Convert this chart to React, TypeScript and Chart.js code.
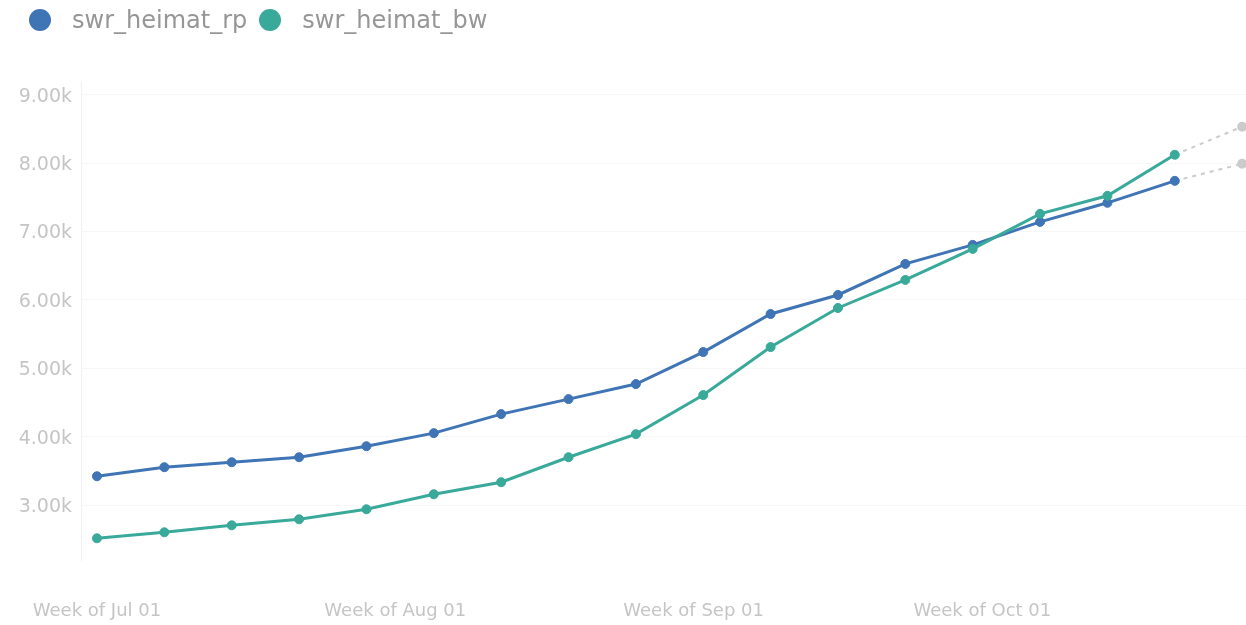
import React, { useEffect, useRef } from 'react';
import { Chart, registerables } from 'chart.js';

Chart.register(...registerables);

// Weekly start dates and the weekly totals for each feed
const weekStarts = [
  '2019-07-01', '2019-07-08', '2019-07-15', '2019-07-22', '2019-07-29',
  '2019-08-05', '2019-08-12', '2019-08-19', '2019-08-26', '2019-09-02',
  '2019-09-09', '2019-09-16', '2019-09-23', '2019-09-30', '2019-10-07',
  '2019-10-14', '2019-10-21',
];
const forecastWeek = '2019-10-28';

const heimatRp = [3424, 3556, 3629, 3702, 3863, 4054, 4332, 4551, 4771, 5239, 5795, 6073, 6527, 6805, 7141, 7420, 7741];
const heimatBw = [2517, 2605, 2707, 2795, 2941, 3161, 3337, 3702, 4039, 4610, 5312, 5883, 6293, 6746, 7259, 7522, 8122];
const forecastRp = 7990;
const forecastBw = 8532;

const seriesNames = ['swr_heimat_rp', 'swr_heimat_bw'];
const seriesColors = ['#3f74b5', '#39a99a'];
const forecastColor = '#cbcbcb';

const tickDates = ['2019-07-01', '2019-08-01', '2019-09-01', '2019-10-01'];
const tickLabels = ['Week of Jul 01', 'Week of Aug 01', 'Week of Sep 01', 'Week of Oct 01'];
const yTicks = [3000, 4000, 5000, 6000, 7000, 8000, 9000];

const DAY = 86400000;
const origin = Date.parse(weekStarts[0] + 'T00:00:00Z');
const dayOf = (iso: string) => (Date.parse(iso + 'T00:00:00Z') - origin) / DAY;

const tickColor = '#c5c5c5';

export default function App() {
  const canvasRef = useRef<HTMLCanvasElement | null>(null);

  useEffect(() => {
    document.body.style.margin = '0';
    const canvas = canvasRef.current;
    if (!canvas) return;

    const lastWeek = weekStarts[weekStarts.length - 1];
    const series = [heimatRp, heimatBw];
    const forecasts = [forecastRp, forecastBw];

    const mainSets = series.map((values, s) => ({
      label: seriesNames[s],
      data: weekStarts.map((d, i) => ({ x: dayOf(d), y: values[i] })),
      borderColor: seriesColors[s],
      backgroundColor: seriesColors[s],
      pointBackgroundColor: seriesColors[s],
      pointBorderColor: seriesColors[s],
      borderWidth: 3,
      pointRadius: 4.5,
      pointBorderWidth: 1,
      tension: 0,
      clip: false as const,
      order: s === 0 ? 2 : 1,
    }));

    const forecastSets = series.map((values, s) => ({
      label: seriesNames[s] + ' (forecast)',
      data: [
        { x: dayOf(lastWeek), y: values[values.length - 1] },
        { x: dayOf(forecastWeek), y: forecasts[s] },
      ],
      borderColor: forecastColor,
      backgroundColor: forecastColor,
      pointBackgroundColor: forecastColor,
      pointBorderColor: forecastColor,
      borderWidth: 2,
      borderDash: [4, 5],
      pointRadius: [0, 4],
      tension: 0,
      clip: false as const,
      order: 3,
    }));

    const chart = new Chart(canvas, {
      type: 'line',
      data: { datasets: [...mainSets, ...forecastSets] },
      options: {
        animation: false,
        responsive: false,
        maintainAspectRatio: false,
        layout: { autoPadding: false, padding: { top: 81, right: 0, bottom: 0, left: 0 } },
        plugins: {
          legend: { display: false },
          tooltip: { enabled: false },
        },
        scales: {
          x: {
            type: 'linear',
            min: -1.66,
            max: 119.4,
            grid: { display: false, drawTicks: false },
            border: { display: false },
            afterBuildTicks: (scale: any) => {
              scale.ticks = tickDates.map((d) => ({ value: dayOf(d) }));
            },
            afterFit: (scale: any) => {
              scale.height = 65;
              scale.paddingLeft = 0;
              scale.paddingRight = 0;
            },
            ticks: {
              padding: 41,
              maxRotation: 0,
              autoSkip: false,
              font: { family: 'DejaVu Sans', size: 18 },
              color: tickColor,
              callback: (_v: any, i: number) => tickLabels[i],
            },
          },
          y: {
            type: 'linear',
            min: 2200,
            max: 9200,
            afterBuildTicks: (scale: any) => {
              scale.ticks = yTicks.map((v) => ({ value: v }));
            },
            afterFit: (scale: any) => {
              scale.width = 81;
            },
            grid: { color: '#f7f7f7', drawTicks: false },
            border: { color: '#f1f1f1' },
            ticks: {
              padding: 9,
              labelOffset: 2,
              font: { family: 'DejaVu Sans', size: 19 },
              color: tickColor,
              callback: (v: any) => (Number(v) / 1000).toFixed(2) + 'k',
            },
          },
        },
      },
    });

    return () => chart.destroy();
  }, []);

  return (
    <div style={{ position: 'relative', width: 1246, height: 625, background: '#ffffff', overflow: 'hidden' }}>
      <canvas ref={canvasRef} width={1246} height={625} style={{ display: 'block' }} />
      <div
        style={{
          position: 'absolute',
          top: 0,
          left: 0,
          height: 39,
          display: 'flex',
          alignItems: 'center',
          paddingLeft: 29,
          fontFamily: 'DejaVu Sans',
          fontSize: 24,
          color: '#969696',
          whiteSpace: 'nowrap',
        }}
      >
        {seriesNames.map((name, i) => (
          <span key={name} style={{ display: 'flex', alignItems: 'center', marginRight: 12 }}>
            <span
              style={{
                width: 22,
                height: 22,
                borderRadius: '50%',
                background: seriesColors[i],
                marginRight: 21,
                display: 'inline-block',
              }}
            />
            <span>{name}</span>
          </span>
        ))}
      </div>
    </div>
  );
}
